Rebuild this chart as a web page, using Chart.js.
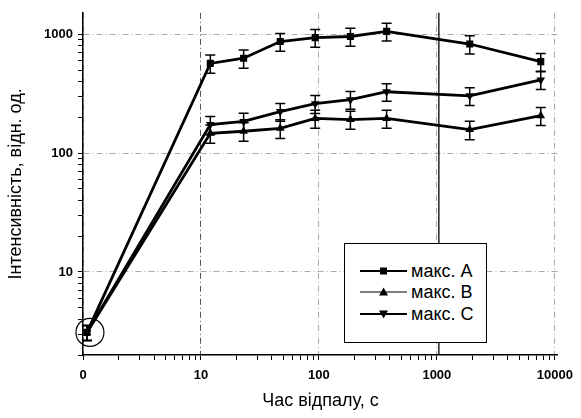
<!DOCTYPE html>
<html>
<head>
<meta charset="utf-8">
<script src="https://cdn.jsdelivr.net/npm/chart.js@4.4.1/dist/chart.umd.min.js"></script>
<style>
  html, body { margin: 0; padding: 0; background: #fff; }
  #wrap { position: relative; width: 581px; height: 418px; }
  #legend {
    position: absolute; left: 344px; top: 243px; width: 141px; height: 98px;
    border: 1px solid #000; background: #fff;
    font-family: Arial, "Liberation Sans", sans-serif; font-size: 18px; color: #000;
  }
  .row { position: absolute; left: 15px; height: 20px; display: flex; align-items: center; }
  .row svg { margin-right: 4px; }
</style>
</head>
<body>
<div id="wrap">
  <canvas id="chart" width="581" height="418"></canvas>
  <div id="legend"></div>
</div>
<script>
// час відпалу (перша точка = "0", на лог. осі стоїть біля 1)
const times = [1.08, 12, 23, 47, 93, 185, 375, 1900, 7600];

const seriesNames = ["макс. A", "макс. B", "макс. C"];
const maxA = [3.1, 570, 630, 870, 940, 960, 1060, 830, 590];
const maxB = [3.1, 147, 153, 162, 196, 192, 196, 158, 207];
const maxC = [3.1, 174, 185, 224, 261, 282, 329, 304, 414];

// похибки (абсолютні)
const errA = [0.45, 100, 110, 150, 160, 165, 180, 145, 100];
const errB = [0.45, 26, 27, 29, 34, 33, 34, 28, 36];
const errC = [0.45, 30, 32, 38, 45, 48, 55, 52, 70];

const xTickLabels = ["0", "10", "100", "1000", "10000"];
const yTickLabels = ["10", "100", "1000"];

const FONT = 'Arial, "Liberation Sans", sans-serif';

function logTicks(min, max) {
  const out = [];
  const e0 = Math.floor(Math.log10(min));
  const e1 = Math.ceil(Math.log10(max));
  for (let e = e0; e <= e1; e++) {
    for (let m = 1; m < 10; m++) {
      const v = m * Math.pow(10, e);
      if (v >= min - 1e-9 && v <= max + 1e-9) out.push({ value: v, major: m === 1 });
    }
  }
  return out;
}

function toPoints(ys, errs) {
  return ys.map((y, i) => ({ x: times[i], y: y, err: errs[i] }));
}

// plugin error bar
const errorBars = {
  id: "errorBars",
  afterDatasetsDraw(chart) {
    const ctx = chart.ctx;
    const yScale = chart.scales.y;
    ctx.save();
    ctx.strokeStyle = "#000";
    ctx.lineWidth = 1.5;
    chart.data.datasets.forEach((ds, di) => {
      const meta = chart.getDatasetMeta(di);
      meta.data.forEach((pt, i) => {
        const d = ds.data[i];
        const top = yScale.getPixelForValue(d.y + d.err);
        const bot = yScale.getPixelForValue(d.y - d.err);
        ctx.beginPath();
        ctx.moveTo(pt.x, top); ctx.lineTo(pt.x, bot);
        ctx.moveTo(pt.x - 5, top); ctx.lineTo(pt.x + 5, top);
        ctx.moveTo(pt.x - 5, bot); ctx.lineTo(pt.x + 5, bot);
        ctx.stroke();
      });
    });
    ctx.restore();
  }
};

// vertical line at 1000 + circle round the first point
const extras = {
  id: "extras",
  beforeDatasetsDraw(chart) {
    const ctx = chart.ctx;
    const a = chart.chartArea;
    const x = chart.scales.x.getPixelForValue(1000) + 2;
    ctx.save();
    ctx.strokeStyle = "#000";
    ctx.lineWidth = 1.3;
    ctx.beginPath();
    ctx.moveTo(x, a.top); ctx.lineTo(x, a.bottom);
    ctx.stroke();
    ctx.restore();
  },
  afterDatasetsDraw(chart) {
    const ctx = chart.ctx;
    const px = chart.scales.x.getPixelForValue(times[0]) + 3;
    const py = chart.scales.y.getPixelForValue(maxA[0]);
    ctx.save();
    ctx.strokeStyle = "#000";
    ctx.lineWidth = 1.2;
    ctx.beginPath();
    ctx.arc(px, py, 14, 0, Math.PI * 2);
    ctx.stroke();
    ctx.restore();
  }
};

function gridColor(c) {
  if (!c.tick || !c.tick.major) return "rgba(0,0,0,0)";
  if (c.tick.value === 10 && c.scale.axis === "x") return "#555";
  return "#aaa";
}

const styles = [
  { pointStyle: "rect", rotation: 0, radius: 5 },
  { pointStyle: "triangle", rotation: 0, radius: 5 },
  { pointStyle: "triangle", rotation: 180, radius: 5 }
];

const ctx = document.getElementById("chart").getContext("2d");
const chart = new Chart(ctx, {
  type: "line",
  data: {
    datasets: [maxA, maxB, maxC].map((ys, k) => ({
      label: seriesNames[k],
      data: toPoints(ys, [errA, errB, errC][k]),
      borderColor: "#000",
      backgroundColor: "#000",
      borderWidth: 2.8,
      pointStyle: styles[k].pointStyle,
      pointRotation: styles[k].rotation,
      pointRadius: styles[k].radius,
      pointBorderWidth: 0,
      tension: 0
    }))
  },
  options: {
    responsive: false,
    devicePixelRatio: 1,
    animation: false,
    layout: { padding: { top: 10, right: 18, left: 0, bottom: 0 } },
    plugins: { legend: { display: false }, tooltip: { enabled: false } },
    scales: {
      x: {
        type: "logarithmic",
        min: 1,
        max: 10600,
        afterBuildTicks: (s) => { s.ticks = logTicks(s.min, s.max); },
        afterFit: (s) => { s.height = 63; },
        ticks: {
          autoSkip: false, maxRotation: 0, padding: 8, color: "#000",
          font: { family: FONT, size: 13, weight: "bold" },
          callback: (v, i, t) => {
            if (!t[i].major) return "";
            const k = Math.round(Math.log10(v));
            return xTickLabels[k] !== undefined ? xTickLabels[k] : "";
          }
        },
        grid: { color: gridColor, tickColor: "#000", tickLength: 5, lineWidth: 1 },
        border: { color: "#000", width: 1.5, dash: [6, 3, 1, 3] },
        title: {
          display: true, text: "Час відпалу, с", color: "#000",
          font: { family: FONT, size: 18 }, padding: { top: 0, bottom: 6 }
        }
      },
      y: {
        type: "logarithmic",
        min: 2,
        max: 1520,
        afterBuildTicks: (s) => { s.ticks = logTicks(s.min, s.max); },
        afterFit: (s) => { s.width = 83; },
        ticks: {
          autoSkip: false, padding: 5, color: "#000",
          font: { family: FONT, size: 13, weight: "bold" },
          callback: (v, i, t) => {
            if (!t[i].major) return "";
            const k = Math.round(Math.log10(v)) - 1;
            return yTickLabels[k] !== undefined ? yTickLabels[k] : "";
          }
        },
        grid: { color: gridColor, tickColor: "#000", tickLength: 5, lineWidth: 1 },
        border: { color: "#000", width: 1.5, dash: [6, 3, 1, 3] },
        title: {
          display: true, text: "Інтенсивність, відн. од.", color: "#000",
          font: { family: FONT, size: 18 }, padding: { top: 5, bottom: 0 }
        }
      }
    }
  },
  plugins: [errorBars, extras]
});

// легенда
const legend = document.getElementById("legend");
const rowTops = [17, 38, 60];
const shapes = [
  '<rect x="20" y="2.5" width="7" height="7" fill="#000"/>',
  '<polygon points="23.5,1.5 28,9.5 19,9.5" fill="#000"/>',
  '<polygon points="23.5,10.5 28,2.5 19,2.5" fill="#000"/>'
];
seriesNames.forEach((name, k) => {
  const row = document.createElement("div");
  row.className = "row";
  row.style.top = rowTops[k] + "px";
  row.innerHTML =
    '<svg width="47" height="12"><line x1="0" y1="6" x2="47" y2="6" stroke="#000" stroke-width="' +
    (k === 1 ? 1.2 : 2) + '"/>' + shapes[k] + '</svg><span>' + name + '</span>';
  legend.appendChild(row);
});
</script>
</body>
</html>
